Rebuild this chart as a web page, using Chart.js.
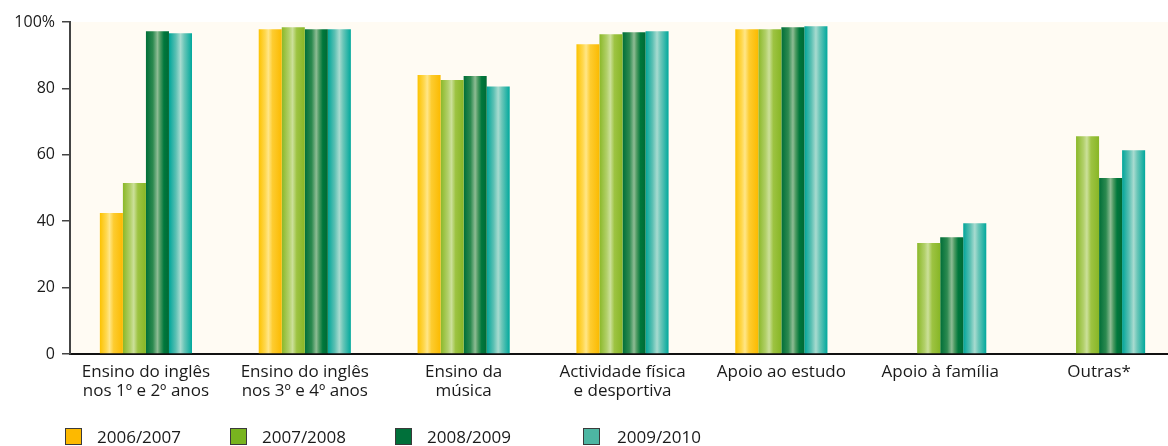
<!DOCTYPE html>
<html>
<head>
<meta charset="utf-8">
<script src="https://cdn.jsdelivr.net/npm/chart.js@4/dist/chart.umd.min.js"></script>
<style>
  html, body { margin: 0; padding: 0; background: #ffffff; overflow: hidden; width: 1168px; height: 446px; }
  #wrap { position: absolute; left: 0; top: 0; width: 1186px; height: 446px; }
  #legend { position: absolute; left: 0; top: 0; width: 1168px; height: 446px; pointer-events: none; }
  .lg-box { position: absolute; width: 17px; height: 17px; box-sizing: border-box; border: 1px solid #3a3a3a; }
  .lg-txt { position: absolute; font-family: "Open Sans", sans-serif; font-size: 17px; line-height: 20px; color: #1a1a1a; white-space: nowrap; }
</style>
</head>
<body>
<div id="wrap"><canvas id="c"></canvas></div>
<div id="legend"></div>
<script>
// ---- data ----
const categories = [
  ["Ensino do inglês", "nos 1º e 2º anos"],
  ["Ensino do inglês", "nos 3º e 4º anos"],
  ["Ensino da", "música"],
  ["Actividade física", "e desportiva"],
  ["Apoio ao estudo"],
  ["Apoio à família"],
  ["Outras*"]
];
const seriesNames = ["2006/2007", "2007/2008", "2008/2009", "2009/2010"];
const s2006 = [42.5, 97.8, 84.0, 93.3, 97.8, null, null];
const s2007 = [51.5, 98.4, 82.5, 96.3, 97.8, 33.4, 65.6];
const s2008 = [97.2, 97.8, 83.7, 96.9, 98.4, 35.2, 53.0];
const s2009 = [96.6, 97.8, 80.6, 97.2, 98.7, 39.4, 61.4];
const yTicks = [0, 20, 40, 60, 80, 100];

// ---- styles ----
const legendColors = ["#FDB900", "#78B41F", "#00703A", "#4DB6A2"];
const gradStops = [
  [[0, "#FCC200"], [0.28, "#FFD84E"], [0.42, "#FFE688"], [0.6, "#FDCC30"], [1, "#FBBA00"]],
  [[0, "#8AB828"], [0.32, "#B2D06A"], [0.47, "#CCE09A"], [0.65, "#9DC342"], [1, "#88B626"]],
  [[0, "#006E38"], [0.3, "#2C8A50"], [0.5, "#8EBC94"], [0.62, "#4C9A62"], [0.78, "#00783C"], [1, "#006A35"]],
  [[0, "#00A69A"], [0.3, "#5BC0B3"], [0.5, "#A8DBD0"], [0.66, "#6AC6B8"], [1, "#00A89C"]]
];
const seriesData = [s2006, s2007, s2008, s2009];

const gradientPlugin = {
  id: "cylGradient",
  beforeDatasetsDraw(chart) {
    const ctx = chart.ctx;
    chart.data.datasets.forEach((ds, i) => {
      const meta = chart.getDatasetMeta(i);
      meta.data.forEach(el => {
        const w = el.width;
        if (!w) return;
        const x0 = el.x - w / 2;
        const g = ctx.createLinearGradient(x0, 0, x0 + w, 0);
        gradStops[i].forEach(s => g.addColorStop(s[0], s[1]));
        el.options.backgroundColor = g;
      });
    });
  }
};

const bgPlugin = {
  id: "areaBg",
  beforeDraw(chart) {
    const a = chart.chartArea, ctx = chart.ctx;
    ctx.save();
    ctx.fillStyle = "#FFFBF3";
    ctx.fillRect(a.left, a.top, a.right - a.left, a.bottom - a.top);
    ctx.restore();
  }
};

new Chart(document.getElementById("c"), {
  type: "bar",
  data: {
    labels: categories,
    datasets: seriesData.map((d, i) => ({
      label: seriesNames[i],
      data: d,
      backgroundColor: () => legendColors[i],
      borderWidth: 0,
      categoryPercentage: 0.58,
      barPercentage: 1.0
    }))
  },
  options: {
    responsive: true,
    maintainAspectRatio: false,
    animation: false,
    events: [],
    layout: { padding: { top: 22, right: 4, left: 0, bottom: 0 } },
    plugins: { legend: { display: false }, tooltip: { enabled: false } },
    scales: {
      x: {
        offset: true,
        grid: { display: false, drawTicks: false },
        border: { display: true, color: "#111111", width: 2 },
        ticks: {
          color: "#1a1a1a",
          font: { family: "Open Sans", size: 17, lineHeight: 1.12 },
          padding: 9,
          maxRotation: 0,
          autoSkip: false
        },
        afterFit(scale) { scale.height = 92; },
        afterUpdate(scale) { if (typeof scale._startValue === "number") scale._startValue += 0.022; }
      },
      y: {
        min: 0, max: 100,
        afterBuildTicks(scale) { scale.ticks = yTicks.map(v => ({ value: v })); },
        grid: { drawOnChartArea: false, drawTicks: true, tickLength: 8, color: "#444444", lineWidth: 1.5 },
        border: { display: true, color: "#444444", width: 2 },
        ticks: {
          color: "#1a1a1a",
          font: { family: "Open Sans", size: 16 },
          padding: 7,
          callback: v => (v === 100 ? "100%" : String(v))
        },
        afterFit(scale) { scale.width = 70; }
      }
    }
  },
  plugins: [bgPlugin, gradientPlugin]
});

// ---- HTML legend built from series arrays ----
const lgBoxX = [65, 230, 395, 583];
const lgTxtX = [97, 262, 427, 617];
const lg = document.getElementById("legend");
seriesNames.forEach((n, i) => {
  const b = document.createElement("div");
  b.className = "lg-box";
  b.style.left = lgBoxX[i] + "px";
  b.style.top = "428px";
  b.style.background = legendColors[i];
  lg.appendChild(b);
  const t = document.createElement("div");
  t.className = "lg-txt";
  t.style.left = lgTxtX[i] + "px";
  t.style.top = "427px";
  t.textContent = n;
  lg.appendChild(t);
});
</script>
</body>
</html>
